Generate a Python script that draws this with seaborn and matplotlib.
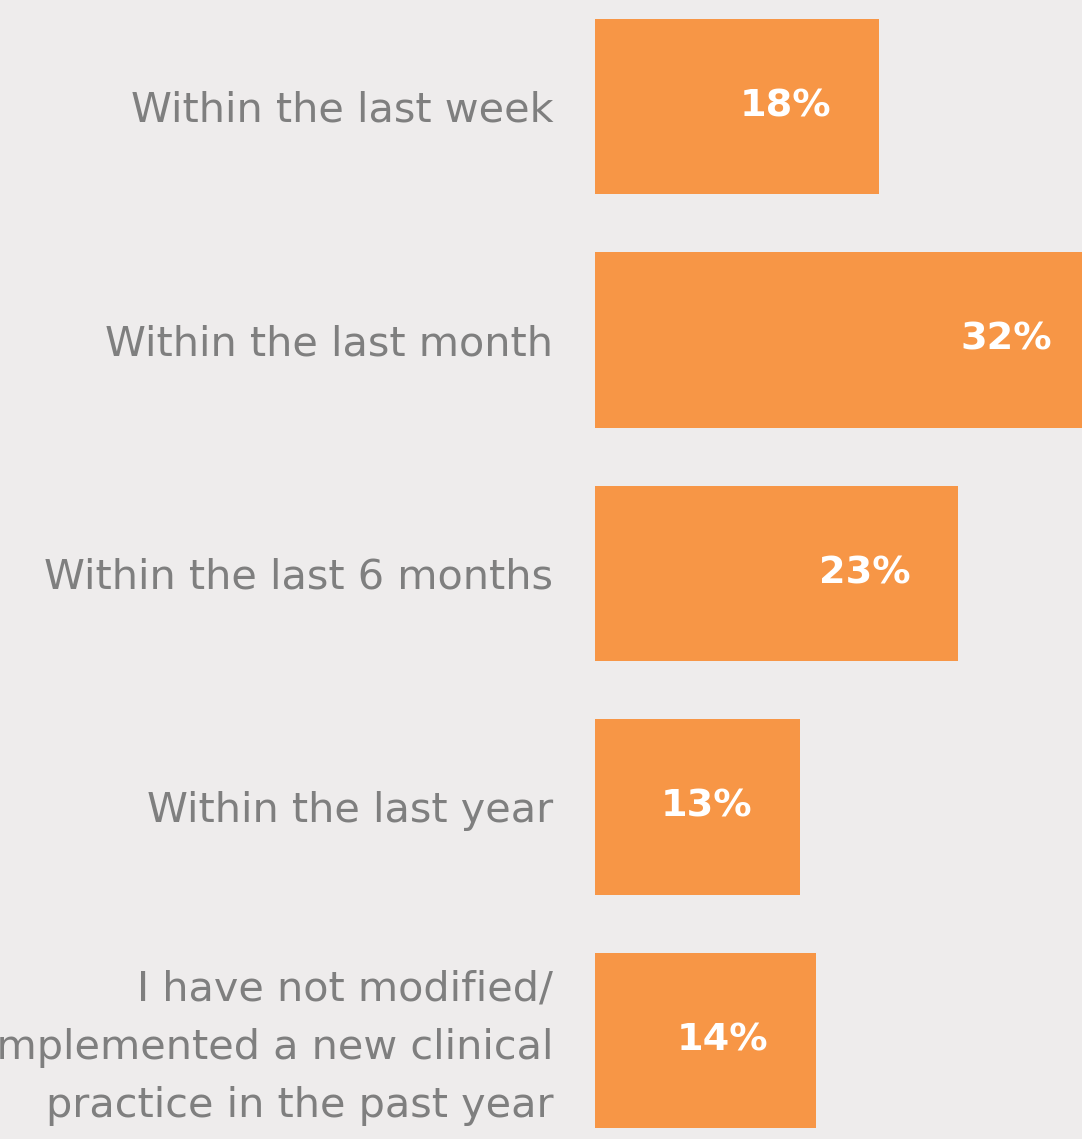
import matplotlib
matplotlib.use("Agg")
import matplotlib.pyplot as plt
import matplotlib.transforms as mtransforms
import seaborn as sns
import pandas as pd

categories = [
    "Within the last week",
    "Within the last month",
    "Within the last 6 months",
    "Within the last year",
    "I have not modified/\nimplemented a new clinical\npractice in the past year",
]
values = [18, 32, 23, 13, 14]
value_labels = ["18%", "32%", "23%", "13%", "14%"]

BG = "#EEECEC"
BAR = "#F79646"
GRAY = "#7F7F7F"

sns.set_theme(style="white")
plt.rcParams["font.family"] = ["DejaVu Sans"]

df = pd.DataFrame({"cat": categories, "val": values})

fig = plt.figure(figsize=(10.82, 11.39), dpi=100, facecolor=BG)
ax = fig.add_axes([595 / 1082, 0, 487 / 1082, 1])
ax.set_facecolor(BG)

sns.barplot(data=df, x="val", y="cat", orient="h", color=BAR, width=0.75,
            saturation=1, linewidth=0, ax=ax)

ax.set_xlim(0, 487 / 15.8)
ax.set_ylim(4.422, -0.456)
for s in ax.spines.values():
    s.set_visible(False)
ax.set_xlabel("")
ax.set_ylabel("")
ax.set_xticks([])
ax.set_yticks(range(len(categories)))
ax.set_yticklabels(categories, fontsize=29.8, color=GRAY, linespacing=1.58)
ax.tick_params(axis="y", length=0, pad=30)

# nudge the multi-line label up slightly so it centres on its bar
last = ax.get_yticklabels()[-1]
last.set_transform(last.get_transform() +
                   mtransforms.ScaledTranslation(0, 6 / 100, fig.dpi_scale_trans))

for i, (v, lab) in enumerate(zip(values, value_labels)):
    ax.text(v - 3.05, i, lab, ha="right", va="center", color="white",
            fontsize=27.5, fontweight="bold")

fig.savefig("out.png", dpi=100, facecolor=BG)
